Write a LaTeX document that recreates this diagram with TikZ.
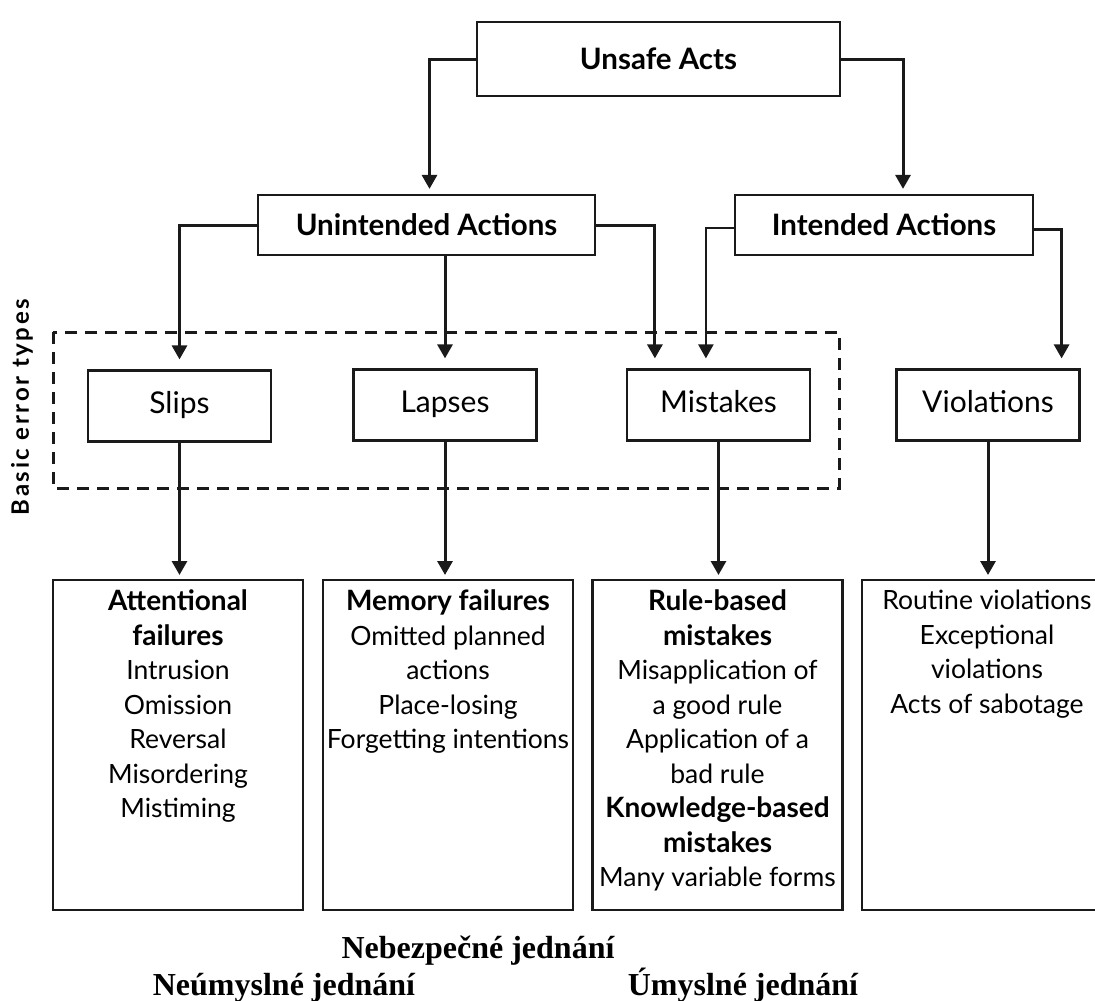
\documentclass[tikz,border=0pt]{standalone}
\usepackage{fontspec}
\setmainfont{Lato}
\newfontfamily\czfont{Liberation Serif}
\usepackage{tikz}
\usetikzlibrary{arrows.meta,positioning}
\definecolor{inkblack}{HTML}{1A1A1A}
\tikzset{
  actbox/.style={draw=inkblack,line width=2.2pt,fill=white,align=center,inner sep=0pt,font=\fontsize{29.5}{34}\selectfont\bfseries},
  errbox/.style={draw=inkblack,line width=2.2pt,fill=white,align=center,inner sep=0pt,minimum width=183pt,minimum height=71pt,text height=21pt,text depth=6pt,font=\fontsize{30}{34}\selectfont},
  listbox/.style={draw=inkblack,line width=2.2pt,fill=white,anchor=north,inner xsep=1pt,inner ysep=10pt},
  flow/.style={-{Triangle[length=14pt,width=15pt]},line width=3pt,draw=inkblack},
  errframe/.style={draw=inkblack,line width=3pt,dash pattern=on 12pt off 8pt},
  czlabel/.style={font=\czfont\fontsize{32}{34}\selectfont\bfseries},
}
\newcommand{\boxlist}[1]{\begin{minipage}[t][310pt][t]{248pt}\centering\fontsize{26.5}{34.5}\selectfont #1\end{minipage}}
\newcommand{\hd}[1]{{\fontsize{28}{34.5}\selectfont\bfseries #1}}

\begin{document}
\begin{tikzpicture}[x=1pt,y=-1pt]
  \useasboundingbox (0,0) rectangle (1095,1001);
  % actions
  \node[actbox,minimum width=363pt,minimum height=74pt] (unsafe) at (658.5,59) {Unsafe Acts};
  \node[actbox,minimum width=337pt,minimum height=60pt] (unintended) at (426.5,225) {Unintended Actions};
  \node[actbox,minimum width=298pt,minimum height=60pt] (intended) at (884,225) {Intended Actions};
  % basic error types
  \draw[errframe] (53,332) rectangle (839,488);
  \node[rotate=90,font=\fontsize{24}{26}\selectfont\bfseries\addfontfeature{LetterSpace=11}] (basic) at (22,407) {Basic error types};
  \node[errbox] (slips) at (179.5,406) {Slips};
  \node[errbox] (lapses) at (445,405) {Lapses};
  \node[errbox] (mistakes) at (718.5,405) {Mistakes};
  \node[errbox] (violations) at (988,405) {Violations};
  % lists
  \node[listbox] (attn) at (178,579) {\boxlist{\hd{Attentional}\\\hd{failures}\\Intrusion\\Omission\\Reversal\\Misordering\\Mistiming}};
  \node[listbox] (memory) at (448,579) {\boxlist{\hd{Memory failures}\\Omitted planned\\actions\\Place-losing\\Forgetting intentions}};
  \node[listbox] (rulebased) at (717.5,579) {\boxlist{\hd{Rule-based}\\\hd{mistakes}\\Misapplication of\\a good rule\\Application of a\\bad rule\\\hd{Knowledge-based}\\\hd{mistakes}\\Many variable forms}};
  \node[listbox] (routine) at (987,579) {\boxlist{Routine violations\\Exceptional\\violations\\Acts of sabotage}};
  % czech captions
  \node[czlabel,anchor=base] (nebez) at (478,958) {Nebezpečné jednání};
  \node[czlabel,anchor=base] (neum) at (284,995) {Neúmyslné jednání};
  \node[czlabel,anchor=base] (umysl) at (743,995) {Úmyslné jednání};
  % connectors
  \draw[flow,shorten >=5pt] (unsafe.west) -| ([xshift=3pt]unintended.north);
  \draw[flow,shorten >=5pt] (unsafe.east) -| ([xshift=19pt]intended.north);
  \draw[flow,shorten >=10pt] (unintended.west) -| (slips.north);
  \draw[flow,shorten >=10pt] (unintended.south -| lapses.north) -- (lapses.north);
  \draw[flow,shorten >=10pt] (unintended.east) -| ([xshift=29pt]mistakes.north west);
  \draw[flow,line width=2.4pt,shorten >=10pt] ([yshift=-3pt]intended.west) -| ([xshift=80pt]mistakes.north west);
  \draw[flow,shorten >=10pt] ([yshift=-4pt]intended.east) -| ([xshift=-19pt]violations.north east);
  \foreach \a/\b in {slips/attn,lapses/memory,mistakes/rulebased,violations/routine}
    \draw[flow,shorten >=4pt] (\a.south) -- (\a.south |- \b.north);
\end{tikzpicture}
\end{document}
